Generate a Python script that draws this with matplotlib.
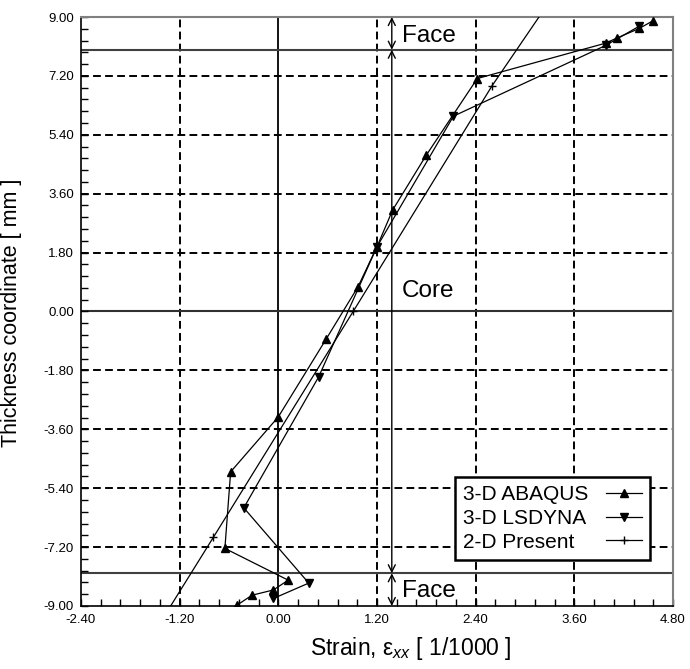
import matplotlib
matplotlib.use('Agg')
import matplotlib.pyplot as plt
from matplotlib.ticker import MultipleLocator, FormatStrFormatter
from matplotlib.transforms import Bbox

plt.rcParams['font.family'] = ['Liberation Sans', 'DejaVu Sans']
plt.rcParams['mathtext.fontset'] = 'custom'
plt.rcParams['mathtext.rm'] = 'Liberation Sans'
plt.rcParams['mathtext.it'] = 'Liberation Sans:italic'

# ---- data ----
abaqus_x = [-0.50, -0.32, -0.06, 0.12, -0.65, -0.58, 0.00, 0.58, 0.97, 1.20, 1.39, 1.80, 2.42, 3.98, 4.12, 4.39, 4.56]
abaqus_y = [-8.97, -8.67, -8.51, -8.21, -7.24, -4.90, -3.22, -0.85, 0.76, 1.98, 3.10, 4.78, 7.12, 8.20, 8.36, 8.65, 8.89]

lsdyna_x = [-0.06, 0.37, -0.42, 0.49, 1.20, 2.13, 3.98, 4.39]
lsdyna_y = [-8.77, -8.30, -6.00, -2.00, 1.98, 5.97, 8.13, 8.72]

present_x = [-1.31, -0.79, 0.91, 2.60, 3.17]
present_y = [-9.00, -6.90, 0.00, 6.90, 9.00]

x_ticks = [-2.40, -1.20, 0.00, 1.20, 2.40, 3.60, 4.80]
y_ticks = [-9.00, -7.20, -5.40, -3.60, -1.80, 0.00, 1.80, 3.60, 5.40, 7.20, 9.00]
x_dashed = [-1.20, 1.20, 2.40, 3.60]
y_dashed = [-7.20, -5.40, -3.60, -1.80, 1.80, 3.60, 5.40, 7.20]
face_bounds = [-8.0, 8.0]
arrow_x = 1.38

fig = plt.figure(figsize=(6.9, 6.69), dpi=100)
ax = fig.add_axes([81/690, 1-606/669, (673-81)/690, (606-17)/669])
ax.set_xlim(-2.4, 4.8)
ax.set_ylim(-9.0, 9.0)

# grid lines
for xv in x_dashed:
    ax.axvline(xv, color='black', lw=1.4, ls=(0, (4, 2.2)), zorder=1)
for yv in y_dashed:
    ax.axhline(yv, color='black', lw=1.4, ls=(0, (4, 2.2)), zorder=1)
ax.axvline(0.0, color='black', lw=1.3, zorder=1)
ax.axhline(0.0, color='#303030', lw=1.5, zorder=1)
for yv in face_bounds:
    ax.axhline(yv, color='#404040', lw=1.5, zorder=1)

# data
ax.plot(abaqus_x, abaqus_y, color='black', lw=0.9, marker='^', ms=6, label='3-D ABAQUS', zorder=3)
ax.plot(lsdyna_x, lsdyna_y, color='black', lw=0.9, marker='v', ms=6, label='3-D LSDYNA', zorder=3)
ax.plot(present_x, present_y, color='black', lw=0.9, marker='+', ms=6, markevery=[1, 2, 3],
        label='2-D Present', zorder=3)

# dimension arrows
ap = dict(arrowstyle='<->,head_length=0.5,head_width=0.25', lw=1.0, color='black', shrinkA=0, shrinkB=0)
ax.annotate('', xy=(arrow_x, 9.0), xytext=(arrow_x, 8.0), arrowprops=ap, annotation_clip=False)
ax.annotate('', xy=(arrow_x, 8.0), xytext=(arrow_x, -8.0), arrowprops=ap, annotation_clip=False)
ax.annotate('', xy=(arrow_x, -8.0), xytext=(arrow_x, -9.0), arrowprops=ap, annotation_clip=False)

ax.text(1.50, 8.42, 'Face', fontsize=17.5, va='center', ha='left')
ax.text(1.50, 0.62, 'Core', fontsize=17.5, va='center', ha='left')
ax.text(1.50, -8.55, 'Face', fontsize=17.5, va='center', ha='left')

# ticks
ax.set_xticks(x_ticks)
ax.set_yticks(y_ticks)
ax.xaxis.set_major_formatter(FormatStrFormatter('%.2f'))
ax.yaxis.set_major_formatter(FormatStrFormatter('%.2f'))
ax.xaxis.set_minor_locator(MultipleLocator(0.24))
ax.yaxis.set_minor_locator(MultipleLocator(0.36))
ax.tick_params(which='both', direction='in', top=False, right=False, length=5, width=1, labelsize=9.5)
ax.tick_params(axis='x', pad=6)
ax.tick_params(axis='y', pad=5)

for s in ['left', 'bottom']:
    ax.spines[s].set_color('black')
    ax.spines[s].set_linewidth(1.2)
for s in ['top', 'right']:
    ax.spines[s].set_color('#808080')
    ax.spines[s].set_linewidth(1.5)

fig.text(411/690, 1-648/669, r'Strain, $\mathregular{\varepsilon}_{\mathit{xx}}$ [ 1/1000 ]',
         fontsize=16.5, ha='center', va='center')
fig.text(12/690, 1-313/669, 'Thickness coordinate [ mm ]', fontsize=15.5, rotation=90,
         ha='center', va='center')

leg = ax.legend(loc='upper left', bbox_to_anchor=(455/690, 1-477/669), bbox_transform=fig.transFigure,
                markerfirst=False, fancybox=False, edgecolor='black', framealpha=1, borderpad=0.4,
                handlelength=1.7, labelspacing=0.22, handletextpad=0.85, fontsize=15, borderaxespad=0)
leg.get_frame().set_linewidth(1.8)

# left-align legend labels (equal text widths so handles line up)
fig.canvas.draw()
renderer = fig.canvas.get_renderer()
cols = leg._legend_handle_box.get_children()
rows = [r for c in cols for r in c.get_children()]
tas = [r.get_children()[0] for r in rows]
wmax = max(t.get_bbox(renderer).width for t in tas)
for t in tas:
    orig = t.get_bbox
    def newbbox(rend, orig=orig):
        b = orig(rend)
        return Bbox.from_bounds(b.x0, b.y0, wmax, b.height)
    t.get_bbox = newbbox

fig.savefig('out.png', dpi=100)
